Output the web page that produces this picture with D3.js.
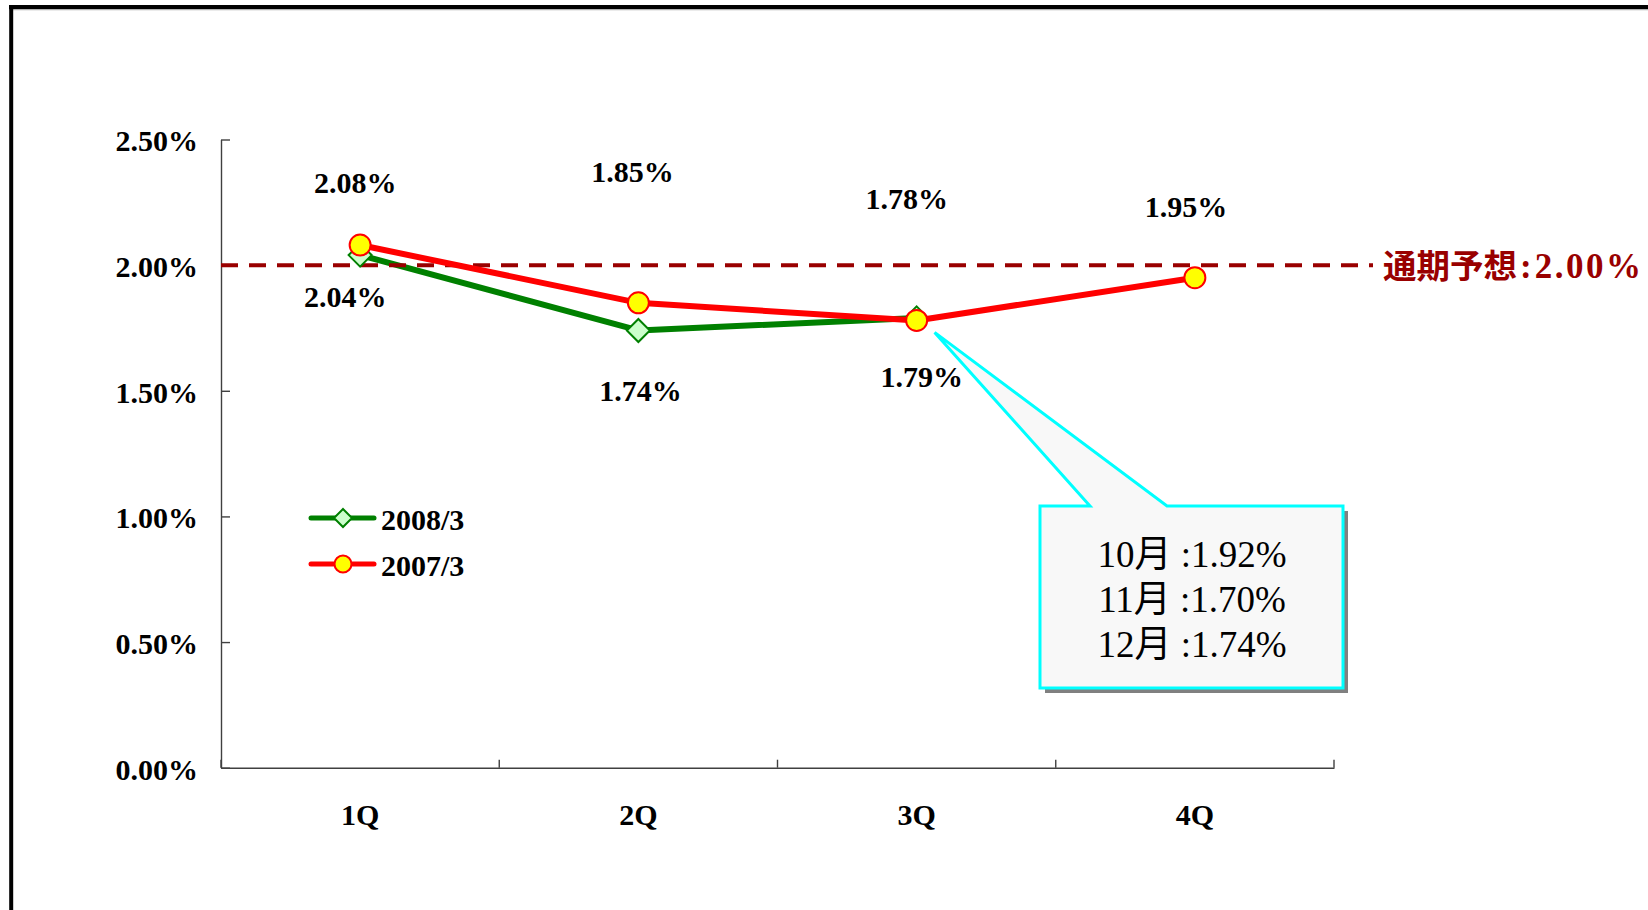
<!DOCTYPE html>
<html>
<head>
<meta charset="utf-8">
<script src="https://cdn.jsdelivr.net/npm/d3@7/dist/d3.min.js"></script>
<style>
  html, body { margin: 0; padding: 0; background: #fff; }
  svg { display: block; }
</style>
</head>
<body>
<svg id="chart" width="1648" height="910"></svg>
<script>
// ---------- data ----------
const categories = ["1Q", "2Q", "3Q", "4Q"];
const series2008 = [2.04, 1.74, 1.79, null];
const series2007 = [2.08, 1.85, 1.78, 1.95];
const yTicks = [0, 0.5, 1.0, 1.5, 2.0, 2.5];
const forecast = 2.00;
const forecastLabel = ["通期予想", ":", "2.00%"];
const months = ["10月", "11月", "12月"];
const monthRates = [1.92, 1.70, 1.74];
const legendNames = ["2008/3", "2007/3"];

// ---------- layout ----------
const FONT = "'Liberation Serif','Times New Roman','Noto Sans CJK JP',serif";
const svg = d3.select("#chart");
const x = d3.scaleBand().domain(categories).range([221, 1334]);
const y = d3.scaleLinear().domain([0, 2.5]).range([767.7, 139.5]);
const cx = c => x(c) + x.bandwidth() / 2;

// label offsets (px) relative to each point: [dx, dy-to-baseline]
const off2007 = [[-5, -52], [-6, -121], [-10, -111], [-9, -61]];
const off2008 = [[-15, 52], [2, 71], [5, 69]];

// outer frame
svg.append("line").attr("x1", 9).attr("x2", 1648).attr("y1", 9.6).attr("y2", 9.6)
  .attr("stroke", "#b0b0b0").attr("stroke-width", 1.2);
svg.append("line").attr("x1", 9).attr("x2", 1648).attr("y1", 7).attr("y2", 7)
  .attr("stroke", "#000").attr("stroke-width", 4);
svg.append("line").attr("x1", 11.2).attr("x2", 11.2).attr("y1", 5).attr("y2", 910)
  .attr("stroke", "#000").attr("stroke-width", 4);

// y axis
const yAxis = svg.append("g").attr("transform", "translate(221,0)")
  .call(d3.axisLeft(y).tickValues(yTicks)
    .tickFormat(d => d.toFixed(2) + "%")
    .tickSizeInner(-9).tickSizeOuter(0).tickPadding(23));
yAxis.select(".domain").attr("stroke", "#404040").attr("stroke-width", 1.4);
yAxis.selectAll(".tick line").attr("stroke", "#404040").attr("stroke-width", 1.4);
yAxis.selectAll(".tick text").attr("font-family", FONT).attr("font-size", 30)
  .attr("font-weight", "bold").attr("fill", "#000").attr("dy", "0.38em");

// x axis
const xAxis = svg.append("g").attr("transform", `translate(0,${y(0)})`)
  .call(d3.axisBottom(x).tickSize(0).tickPadding(36));
xAxis.select(".domain").attr("stroke", "#404040").attr("stroke-width", 1.4);
xAxis.selectAll(".tick text").attr("font-family", FONT).attr("font-size", 30)
  .attr("font-weight", "bold").attr("fill", "#000");
const bounds = categories.map(c => x(c)).concat([x.range()[1]]);
xAxis.selectAll("line.bound").data(bounds).enter().append("line")
  .attr("class", "bound")
  .attr("x1", d => d).attr("x2", d => d).attr("y1", 0).attr("y2", -8)
  .attr("stroke", "#404040").attr("stroke-width", 1.4);

// lines
const line = d3.line()
  .defined(d => d.v !== null)
  .x(d => cx(d.c)).y(d => y(d.v));
const d2008 = categories.map((c, i) => ({ c, v: series2008[i] }));
const d2007 = categories.map((c, i) => ({ c, v: series2007[i] }));

svg.append("path").datum(d2008).attr("d", line)
  .attr("fill", "none").attr("stroke", "#008000").attr("stroke-width", 6)
  .attr("stroke-linejoin", "round");

// forecast dashed line
svg.append("line")
  .attr("x1", 221).attr("x2", 1373).attr("y1", y(forecast)).attr("y2", y(forecast))
  .attr("stroke", "#990000").attr("stroke-width", 4).attr("stroke-dasharray", "17,11");

const diamond = r => `M0,${-r}L${r},0L0,${r}L${-r},0Z`;
svg.selectAll("path.m2008").data(d2008.filter(d => d.v !== null)).enter().append("path")
  .attr("class", "m2008")
  .attr("transform", d => `translate(${cx(d.c)},${y(d.v)})`)
  .attr("d", diamond(11.5))
  .attr("fill", "#ccffcc").attr("stroke", "#008000").attr("stroke-width", 2);

svg.append("path").datum(d2007).attr("d", line)
  .attr("fill", "none").attr("stroke", "#ff0000").attr("stroke-width", 6)
  .attr("stroke-linejoin", "round");
svg.selectAll("circle.m2007").data(d2007).enter().append("circle")
  .attr("class", "m2007")
  .attr("cx", d => cx(d.c)).attr("cy", d => y(d.v)).attr("r", 10.5)
  .attr("fill", "#ffff00").attr("stroke", "#ff0000").attr("stroke-width", 2);

// data labels
const lbl = (data, offs) => svg.append("g").selectAll("text")
  .data(data.filter(d => d.v !== null)).enter().append("text")
  .attr("x", (d, i) => cx(d.c) + offs[i][0])
  .attr("y", (d, i) => y(d.v) + offs[i][1])
  .attr("text-anchor", "middle")
  .attr("font-family", FONT).attr("font-size", 30).attr("font-weight", "bold")
  .attr("fill", "#000")
  .text(d => d.v.toFixed(2) + "%");
lbl(d2007, off2007);
lbl(d2008, off2008);

// forecast label
const fl = svg.append("text").attr("x", 1383).attr("y", y(forecast) + 13)
  .attr("font-family", FONT).attr("font-weight", "bold").attr("fill", "#990000");
fl.append("tspan").attr("font-size", 33.5).text(forecastLabel[0]);
fl.append("tspan").attr("font-size", 35).attr("dx", 3).attr("letter-spacing", 3).text(forecastLabel[1]);
fl.append("tspan").attr("font-size", 35).attr("letter-spacing", 2.5).text(forecastLabel[2]);

// legend
const legend = svg.append("g");
const legRows = [
  { name: legendNames[0], color: "#008000", y: 518, type: "d" },
  { name: legendNames[1], color: "#ff0000", y: 564, type: "c" }
];
legRows.forEach(r => {
  legend.append("line").attr("x1", 311).attr("x2", 374).attr("y1", r.y).attr("y2", r.y)
    .attr("stroke", r.color).attr("stroke-width", 5).attr("stroke-linecap", "round");
  if (r.type === "d") {
    legend.append("path").attr("transform", `translate(343,${r.y})`).attr("d", diamond(9))
      .attr("fill", "#ccffcc").attr("stroke", "#008000").attr("stroke-width", 2);
  } else {
    legend.append("circle").attr("cx", 343).attr("cy", r.y).attr("r", 8.5)
      .attr("fill", "#ffff00").attr("stroke", "#ff0000").attr("stroke-width", 2);
  }
  legend.append("text").attr("x", 381).attr("y", r.y + 12)
    .attr("font-family", FONT).attr("font-size", 30).attr("font-weight", "bold")
    .attr("fill", "#000").text(r.name);
});

// callout anchored near the 3Q point of 2007/3
const tipX = cx("3Q") + 18, tipY = y(series2007[2]) + 12;
const bx0 = 1040, by0 = 506, bx1 = 1343, by1 = 688;
svg.append("rect").attr("x", bx0 + 5).attr("y", by0 + 5)
  .attr("width", bx1 - bx0).attr("height", by1 - by0).attr("fill", "#808080");
svg.append("path")
  .attr("d", `M${bx0},${by0}L1090,${by0}L${tipX},${tipY}L1167,${by0}L${bx1},${by0}L${bx1},${by1}L${bx0},${by1}Z`)
  .attr("fill", "#f8f8f8").attr("stroke", "#00ffff").attr("stroke-width", 3)
  .attr("stroke-linejoin", "miter");
svg.append("g").selectAll("text").data(months).enter().append("text")
  .attr("x", 1192).attr("y", (d, i) => 567 + i * 45)
  .attr("text-anchor", "middle")
  .attr("font-family", FONT).attr("font-size", 37).attr("fill", "#000")
  .text((d, i) => d + " :" + monthRates[i].toFixed(2) + "%");
</script>
</body>
</html>
